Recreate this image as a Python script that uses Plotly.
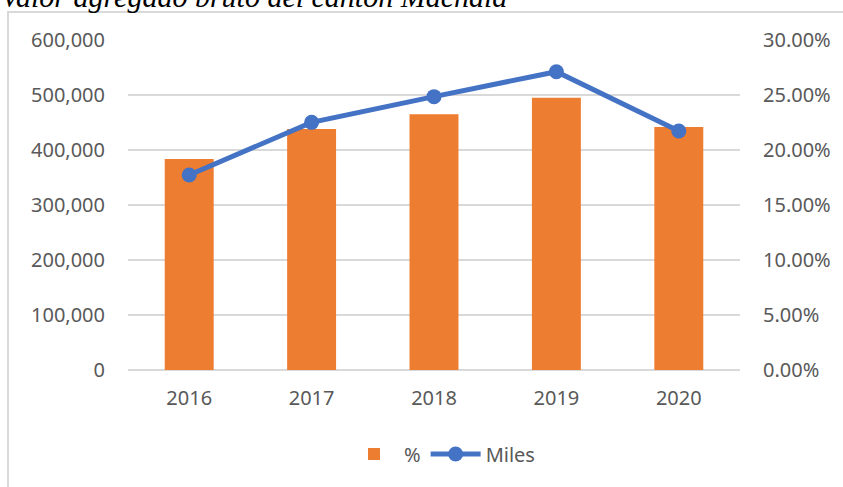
import plotly.graph_objects as go

years = ["2016", "2017", "2018", "2019", "2020"]
pct = [0.1918, 0.2191, 0.2324, 0.2476, 0.2209]          # bars, "%"
miles = [354500, 450300, 497000, 542400, 434500]      # line, "Miles"
left_ticks = [0, 100000, 200000, 300000, 400000, 500000, 600000]
right_ticks = [0, 0.05, 0.10, 0.15, 0.20, 0.25, 0.30]

W, H = 843, 487
L, R, T, B = 128, 740, 40, 370
pw, ph = R - L, B - T

def px_x(px):
    return (px - L) / pw

def px_y(py):
    return (B - py) / ph

font = dict(family="Noto Sans", size=20, color="#595959")
grid = "#d9d9d9"

fig = go.Figure()
fig.add_trace(go.Bar(
    x=years, y=pct, name="%", marker=dict(color="#ED7D31", line=dict(width=0)),
    yaxis="y",
))
fig.add_trace(go.Scatter(
    x=years, y=miles, name="Miles", mode="lines+markers",
    line=dict(color="#4472C4", width=5),
    marker=dict(color="#4472C4", size=15),
    yaxis="y2",
))

fig.update_layout(
    width=W, height=H,
    margin=dict(l=L, r=W - R, t=T, b=H - B, autoexpand=False),
    paper_bgcolor="white", plot_bgcolor="white",
    bargap=0.6,
    font=font,
    xaxis=dict(showgrid=False, showline=False, ticks="", tickfont=font,
               ticklabelstandoff=14),
    yaxis=dict(side="right", range=[0, 0.30], tickvals=right_ticks,
               tickformat=".2%", showgrid=True, gridcolor=grid, gridwidth=1.5,
               zeroline=True, zerolinecolor=grid, zerolinewidth=1.5,
               tickfont=font, ticklabelstandoff=22, showline=False),
    yaxis2=dict(side="left", overlaying="y", range=[0, 600000],
                tickvals=left_ticks, tickformat=",d", showgrid=False,
                zeroline=False, tickfont=font, ticklabelstandoff=22),
    showlegend=True,
    legend=dict(orientation="h", x=px_x(442), xanchor="center", y=px_y(454),
                yanchor="middle", font=font, itemwidth=50,
                traceorder="normal"),
)

# chart border
fig.add_shape(type="rect", xref="paper", yref="paper",
              x0=px_x(8), x1=px_x(852), y0=px_y(496), y1=px_y(12),
              line=dict(color="#d9d9d9", width=2), layer="below")

# title (partially cut off at the top)
fig.add_annotation(text="<i>Valor agregado bruto del cantón Machala</i>",
                   xref="paper", yref="paper", x=px_x(-1), y=px_y(-3),
                   xanchor="left", yanchor="middle", showarrow=False,
                   font=dict(family="Liberation Serif", size=30, color="black"))

fig.write_html("out.html",
               config={"displayModeBar": False},
               post_script="document.body.style.margin='0';"
                           "document.body.style.overflow='hidden';")
